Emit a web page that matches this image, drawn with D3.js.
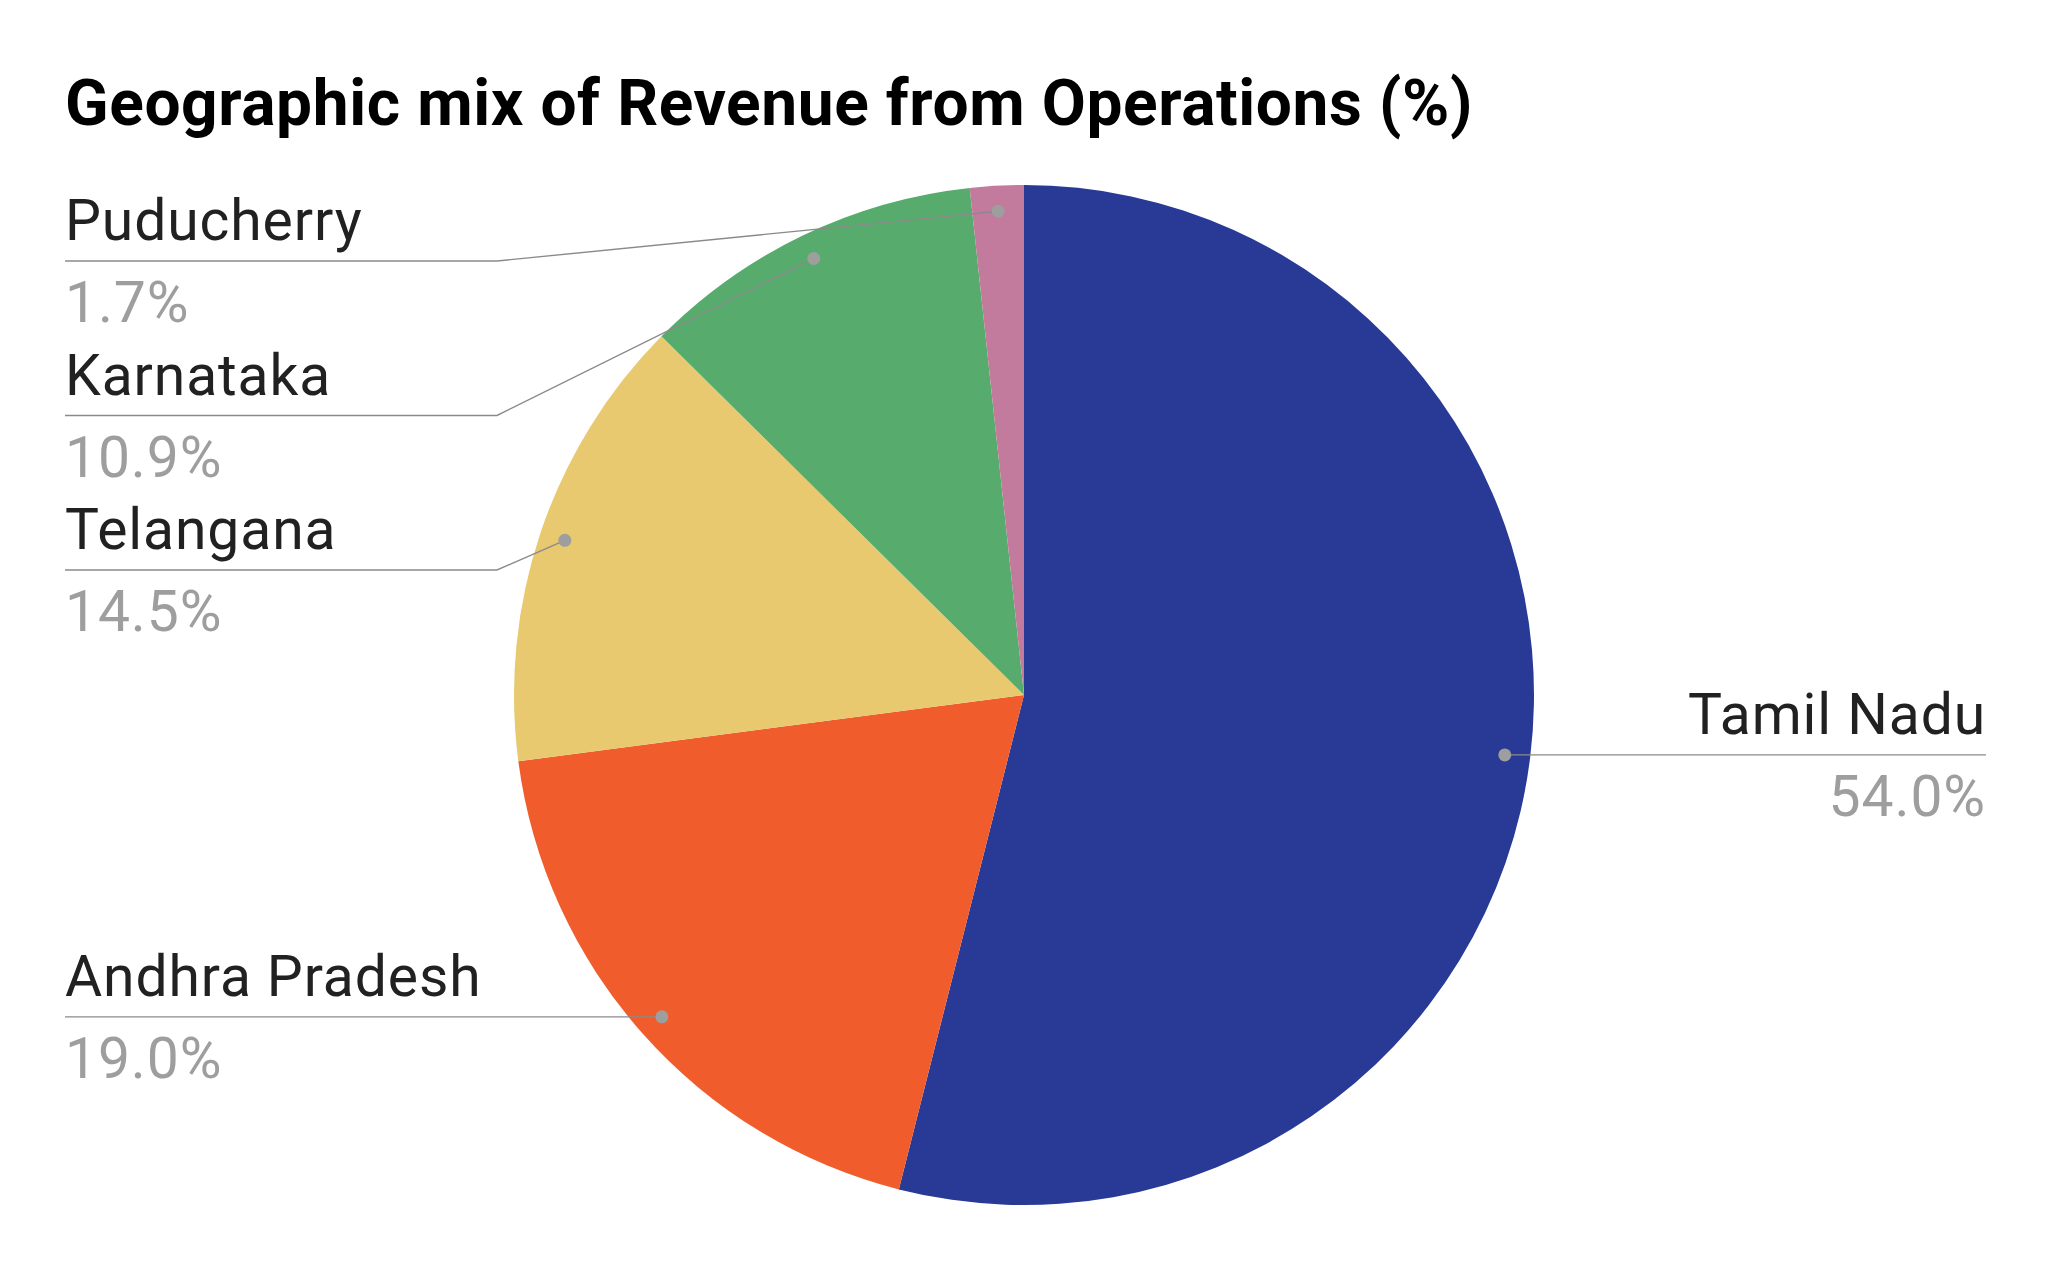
<!DOCTYPE html>
<html>
<head>
<meta charset="utf-8">
<script src="https://cdn.jsdelivr.net/npm/d3@7"></script>
<style>
  body { margin: 0; background: #fff; }
  svg { display: block; font-family: Roboto, "Noto Sans", sans-serif; }
</style>
</head>
<body>
<svg id="chart"></svg>
<script>
// data
let regions = ["Tamil Nadu", "Andhra Pradesh", "Telangana", "Karnataka", "Puducherry"];
let shares = [54.0, 19.0, 14.5, 10.9, 1.7];
let sliceColors = ["#283a96", "#f05c2c", "#e8c96f", "#57ac6d", "#c27a9d"];

const width = 2048, height = 1268;
const cx = 1024, cy = 695, radius = 510;

var svg = d3.select("#chart").attr("width", width).attr("height", height);

// title
svg.append("text")
    .attr("x", 65)
    .attr("y", 125)
    .attr("font-size", 64)
    .attr("font-weight", 700)
    .attr("letter-spacing", 0.6)
    .attr("fill", "#000")
    .text("Geographic mix of Revenue from Operations (%)");

let data = regions.map((r, i) => ({ region: r, value: shares[i] }));
let color = d3.scaleOrdinal().domain(regions).range(sliceColors);

let pie = d3.pie().value(d => d.value).sort(null);
let arcs = pie(data);
let arc = d3.arc().innerRadius(0).outerRadius(radius);
let dotArc = d3.arc().innerRadius(radius * 0.95).outerRadius(radius * 0.95);

let g = svg.append("g").attr("transform", `translate(${cx},${cy})`);

g.selectAll(".slice")
    .data(arcs)
    .enter()
    .append("path")
    .attr("class", "slice")
    .attr("d", arc)
    .attr("fill", d => color(d.data.region));

// label layout: left side labels stacked top to bottom with a min gap
const leftX = 65, leftElbow = 497, rightX = 1986, rightElbow = 1554;
const gap = 154.5, topLimit = 261;

arcs.forEach(d => {
    let c = dotArc.centroid(d);
    d.dot = [cx + c[0], cy + c[1]];
    d.side = c[0] < 0 ? "left" : "right";
});

["left", "right"].forEach(side => {
    let items = arcs.filter(d => d.side === side).sort((a, b) => a.dot[1] - b.dot[1]);
    let prev = -Infinity;
    items.forEach(d => {
        d.ly = Math.max(d.dot[1], prev + gap, topLimit);
        prev = d.ly;
    });
});

let labels = svg.selectAll(".lbl")
    .data(arcs)
    .enter()
    .append("g")
    .attr("class", "lbl");

labels.append("path")
    .attr("fill", "none")
    .attr("stroke", "#8a8a8a")
    .attr("stroke-width", 1.4)
    .attr("d", d => {
        let x0 = d.side === "left" ? leftX : rightX;
        let xe = d.side === "left" ? leftElbow : rightElbow;
        return d3.line()([[x0, d.ly], [xe, d.ly], d.dot]);
    });

labels.append("circle")
    .attr("cx", d => d.dot[0])
    .attr("cy", d => d.dot[1])
    .attr("r", 6.5)
    .attr("fill", "#9e9e9e");

labels.append("text")
    .attr("x", d => d.side === "left" ? leftX : rightX)
    .attr("y", d => d.ly - 21)
    .attr("text-anchor", d => d.side === "left" ? "start" : "end")
    .attr("font-size", 57)
    .attr("letter-spacing", 0.9)
    .attr("fill", "#212121")
    .text(d => d.data.region);

labels.append("text")
    .attr("x", d => d.side === "left" ? leftX : rightX)
    .attr("y", d => d.ly + 61)
    .attr("text-anchor", d => d.side === "left" ? "start" : "end")
    .attr("font-size", 57)
    .attr("letter-spacing", 0.9)
    .attr("fill", "#9e9e9e")
    .text(d => d.data.value.toFixed(1) + "%");
</script>
</body>
</html>
